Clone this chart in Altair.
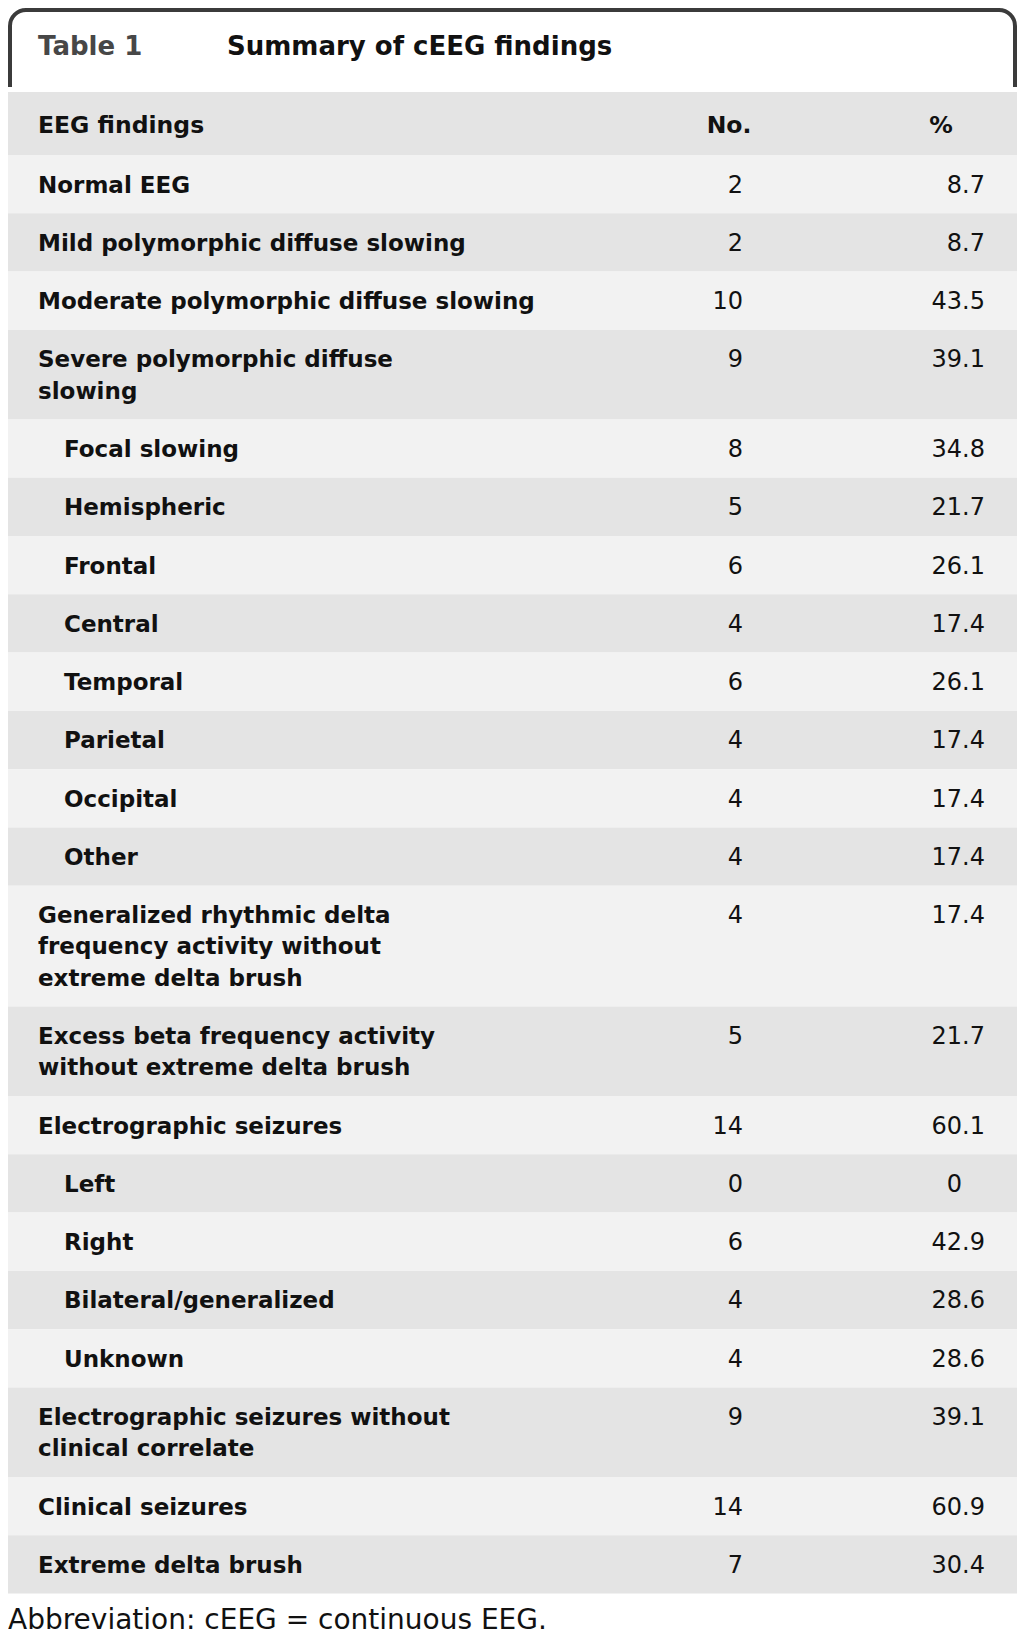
import altair as alt
import pandas as pd

# ---------------- data ----------------
labels = [
    "Normal EEG",
    "Mild polymorphic diffuse slowing",
    "Moderate polymorphic diffuse slowing",
    "Severe polymorphic diffuse\nslowing",
    "Focal slowing",
    "Hemispheric",
    "Frontal",
    "Central",
    "Temporal",
    "Parietal",
    "Occipital",
    "Other",
    "Generalized rhythmic delta\nfrequency activity without\nextreme delta brush",
    "Excess beta frequency activity\nwithout extreme delta brush",
    "Electrographic seizures",
    "Left",
    "Right",
    "Bilateral/generalized",
    "Unknown",
    "Electrographic seizures without\nclinical correlate",
    "Clinical seizures",
    "Extreme delta brush",
]
indent = [0, 0, 0, 0, 1, 1, 1, 1, 1, 1, 1, 1, 0, 0, 0, 1, 1, 1, 1, 0, 0, 0]
nos = [2, 2, 10, 9, 8, 5, 6, 4, 6, 4, 4, 4, 4, 5, 14, 0, 6, 4, 4, 9, 14, 7]
pcts = ["8.7", "8.7", "43.5", "39.1", "34.8", "21.7", "26.1", "17.4", "26.1",
        "17.4", "17.4", "17.4", "17.4", "21.7", "60.1", "0", "42.9", "28.6",
        "28.6", "39.1", "60.9", "30.4"]
header_cols = ["EEG findings", "No.", "%"]
table_no = "Table 1"
table_title = "Summary of cEEG findings"
footnote = "Abbreviation: cEEG = continuous EEG."

# ---------------- layout (page pixel coordinates) ----------------
X0, X1 = 8, 1017
Y0, Y1 = 8, 1640
BODY_TOP = 155.0
ROW_H = 58.3
LINE_H = 31.2
LEFT_X = 38
INDENT_X = 64
NO_RIGHT = 743
DEC_X = 962
FONT = "DejaVu Sans"

rows = []
top = BODY_TOP
for i, lab in enumerate(labels):
    n = lab.count("\n") + 1
    h = ROW_H + LINE_H * (n - 1)
    parts = pcts[i].split(".")
    rows.append(dict(
        label=lab, y0=top, y1=top + h, base=top + 37.5,
        shade="light" if i % 2 == 0 else "dark",
        lx=LEFT_X if indent[i] == 0 else INDENT_X,
        no=str(nos[i]), nx=NO_RIGHT,
        pint=parts[0], pfrac=("." + parts[1]) if len(parts) > 1 else "",
        dx=DEC_X, xa=X0, xb=X1,
    ))
    top += h
body = pd.DataFrame(rows)

bands = pd.DataFrame([dict(xa=10, xb=1015, y0=10, y1=110)])
cover = pd.DataFrame([dict(xa=X0, xb=X1, y0=87, y1=92)])
head_band = pd.DataFrame([dict(xa=X0, xb=X1, y0=92, y1=155, shade="dark")])
head_left = pd.DataFrame([dict(t=header_cols[0], x=LEFT_X, y=133)])
head_center = pd.DataFrame([dict(t=header_cols[1], x=729, y=133),
                            dict(t=header_cols[2], x=941, y=133)])
title_a = pd.DataFrame([dict(t=table_no, x=38, y=55)])
title_b = pd.DataFrame([dict(t=table_title, x=227, y=55)])
foot = pd.DataFrame([dict(t=footnote, x=8, y=1629)])

xs = alt.Scale(domain=[X0, X1], nice=False, zero=False)
ys = alt.Scale(domain=[Y0, Y1], nice=False, zero=False, reverse=True)


def X(f):
    return alt.X(f + ":Q", scale=xs, axis=None)


def Y(f):
    return alt.Y(f + ":Q", scale=ys, axis=None)


shade_scale = alt.Scale(domain=["light", "dark"], range=["#f2f2f2", "#e4e4e4"])

frame = alt.Chart(bands).mark_rect(
    fill="white", stroke="#3b3b3b", strokeWidth=4,
    cornerRadiusTopLeft=16, cornerRadiusTopRight=16,
).encode(x=X("xa"), x2="xb", y=Y("y0"), y2="y1")

cover_l = alt.Chart(cover).mark_rect(fill="white").encode(
    x=X("xa"), x2="xb", y=Y("y0"), y2="y1")

head_l = alt.Chart(head_band).mark_rect().encode(
    x=X("xa"), x2="xb", y=Y("y0"), y2="y1",
    color=alt.Color("shade:N", scale=shade_scale, legend=None))

row_bg = alt.Chart(body).mark_rect().encode(
    x=X("xa"), x2="xb", y=Y("y0"), y2="y1",
    color=alt.Color("shade:N", scale=shade_scale, legend=None))

lab_l = alt.Chart(body).mark_text(
    align="left", baseline="alphabetic", font=FONT, fontWeight="bold",
    fontSize=23, lineBreak="\n", lineHeight=LINE_H, color="#111111",
).encode(x=X("lx"), y=Y("base"), text="label:N")

no_l = alt.Chart(body).mark_text(
    align="right", baseline="alphabetic", font=FONT, fontSize=24,
    color="#111111",
).encode(x=X("nx"), y=Y("base"), text="no:N")

pint_l = alt.Chart(body).mark_text(
    align="right", baseline="alphabetic", font=FONT, fontSize=24,
    color="#111111",
).encode(x=X("dx"), y=Y("base"), text="pint:N")

pfrac_l = alt.Chart(body).mark_text(
    align="left", baseline="alphabetic", font=FONT, fontSize=24,
    color="#111111",
).encode(x=X("dx"), y=Y("base"), text="pfrac:N")

hl = alt.Chart(head_left).mark_text(
    align="left", baseline="alphabetic", font=FONT, fontWeight="bold",
    fontSize=23.5, color="#111111",
).encode(x=X("x"), y=Y("y"), text="t:N")

hc = alt.Chart(head_center).mark_text(
    align="center", baseline="alphabetic", font=FONT, fontWeight="bold",
    fontSize=23.5, color="#111111",
).encode(x=X("x"), y=Y("y"), text="t:N")

ta = alt.Chart(title_a).mark_text(
    align="left", baseline="alphabetic", font=FONT, fontWeight="bold",
    fontSize=26, color="#474747",
).encode(x=X("x"), y=Y("y"), text="t:N")

tb = alt.Chart(title_b).mark_text(
    align="left", baseline="alphabetic", font=FONT, fontWeight="bold",
    fontSize=26, color="#111111",
).encode(x=X("x"), y=Y("y"), text="t:N")

fl = alt.Chart(foot).mark_text(
    align="left", baseline="alphabetic", font=FONT, fontSize=28,
    color="#111111",
).encode(x=X("x"), y=Y("y"), text="t:N")

chart = alt.layer(
    frame, cover_l, head_l, row_bg, lab_l, no_l, pint_l, pfrac_l,
    hl, hc, ta, tb, fl,
).properties(
    width=X1 - X0, height=Y1 - Y0,
    autosize=alt.AutoSizeParams(type="none"),
    padding=0, background="white",
).configure_view(stroke=None)

chart.save("out.html", embed_options={"renderer": "svg", "actions": False})
